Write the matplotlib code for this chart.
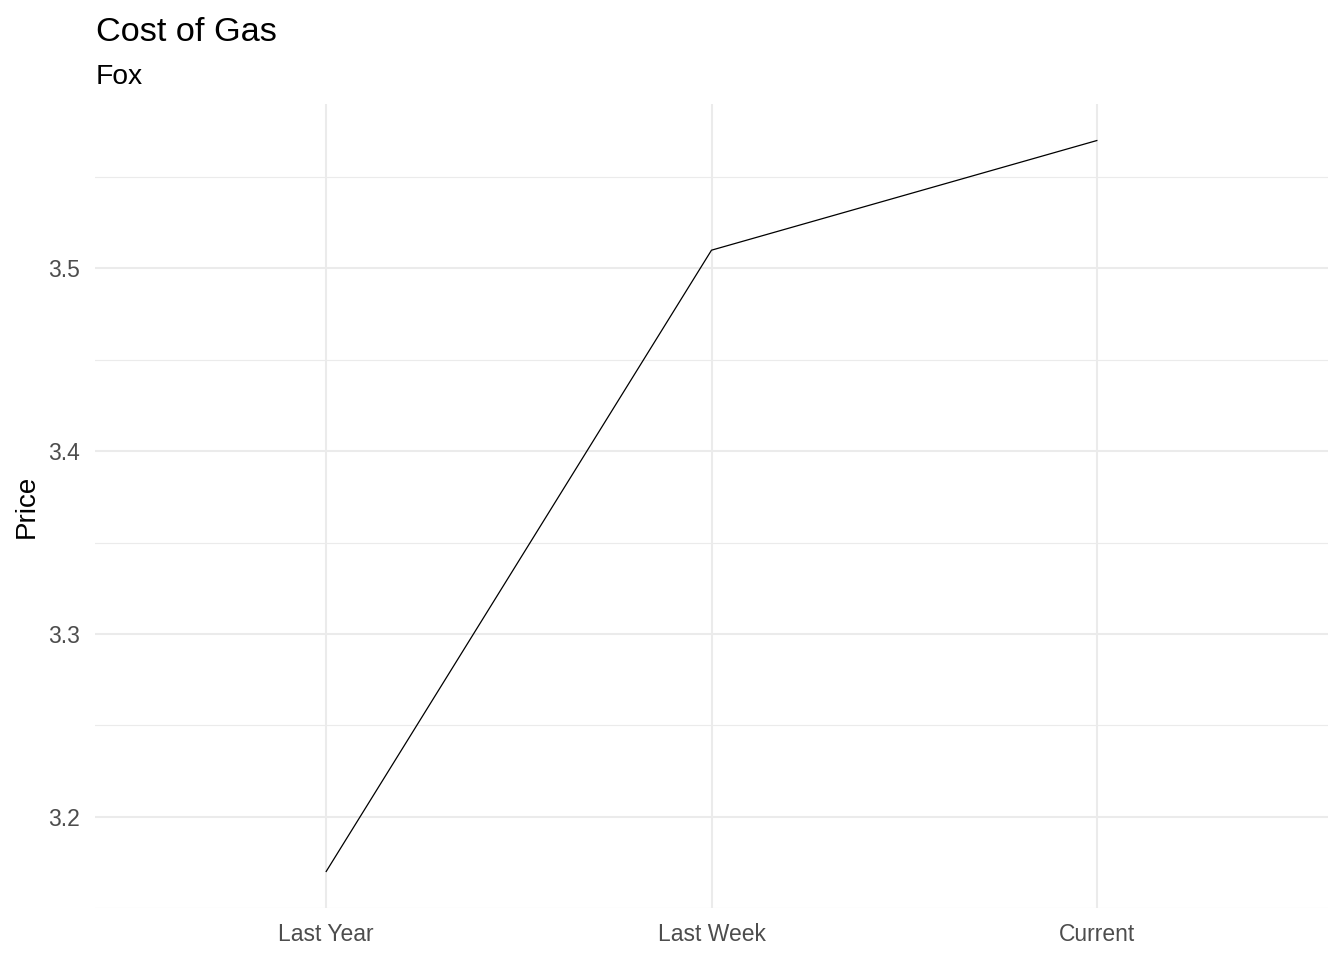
import matplotlib
matplotlib.use("Agg")
import matplotlib.pyplot as plt
from matplotlib.ticker import MultipleLocator

categories = ["Last Year", "Last Week", "Current"]
prices = [3.17, 3.51, 3.57]
yticks = [3.2, 3.3, 3.4, 3.5]
title = "Cost of Gas"
subtitle = "Fox"
ylabel = "Price"

plt.rcParams['font.family'] = ['Liberation Sans', 'DejaVu Sans']

W, H = 1344, 960
fig = plt.figure(figsize=(W / 100, H / 100), dpi=100)
ax = fig.add_axes([95 / W, (H - 908) / H, (1328 - 95) / W, (908 - 104) / H])

x = list(range(1, len(categories) + 1))
ax.plot(x, prices, color="black", linewidth=0.9, zorder=3)

rng = max(prices) - min(prices)
ax.set_ylim(min(prices) - 0.05 * rng, max(prices) + 0.05 * rng)
ax.set_xlim(0.4, len(categories) + 0.6)
ax.set_xticks(x)
ax.set_xticklabels(categories)
ax.set_yticks(yticks)
ax.set_yticklabels([f"{v:.1f}" for v in yticks])
ax.yaxis.set_minor_locator(MultipleLocator(0.05))

ax.grid(which="major", color="#EBEBEB", linewidth=1.5, zorder=0)
ax.grid(which="minor", axis="y", color="#EBEBEB", linewidth=0.8, zorder=0)
ax.set_axisbelow(True)
for s in ax.spines.values():
    s.set_visible(False)
ax.tick_params(which="both", length=0)
ax.tick_params(axis="y", labelsize=16.5, labelcolor="#4D4D4D", pad=11)
ax.tick_params(axis="x", labelsize=16.5, labelcolor="#4D4D4D", pad=10.5)

ax.set_ylabel(ylabel, fontsize=20, color="black")
ax.yaxis.set_label_coords(-0.0445, 0.5)

fig.text(96 / W, 1 - 41 / H, title, fontsize=24.7, color="black", ha="left", va="baseline")
fig.text(96 / W, 1 - 84 / H, subtitle, fontsize=20.3, color="black", ha="left", va="baseline")

fig.savefig("out.png", dpi=100, facecolor="white")
